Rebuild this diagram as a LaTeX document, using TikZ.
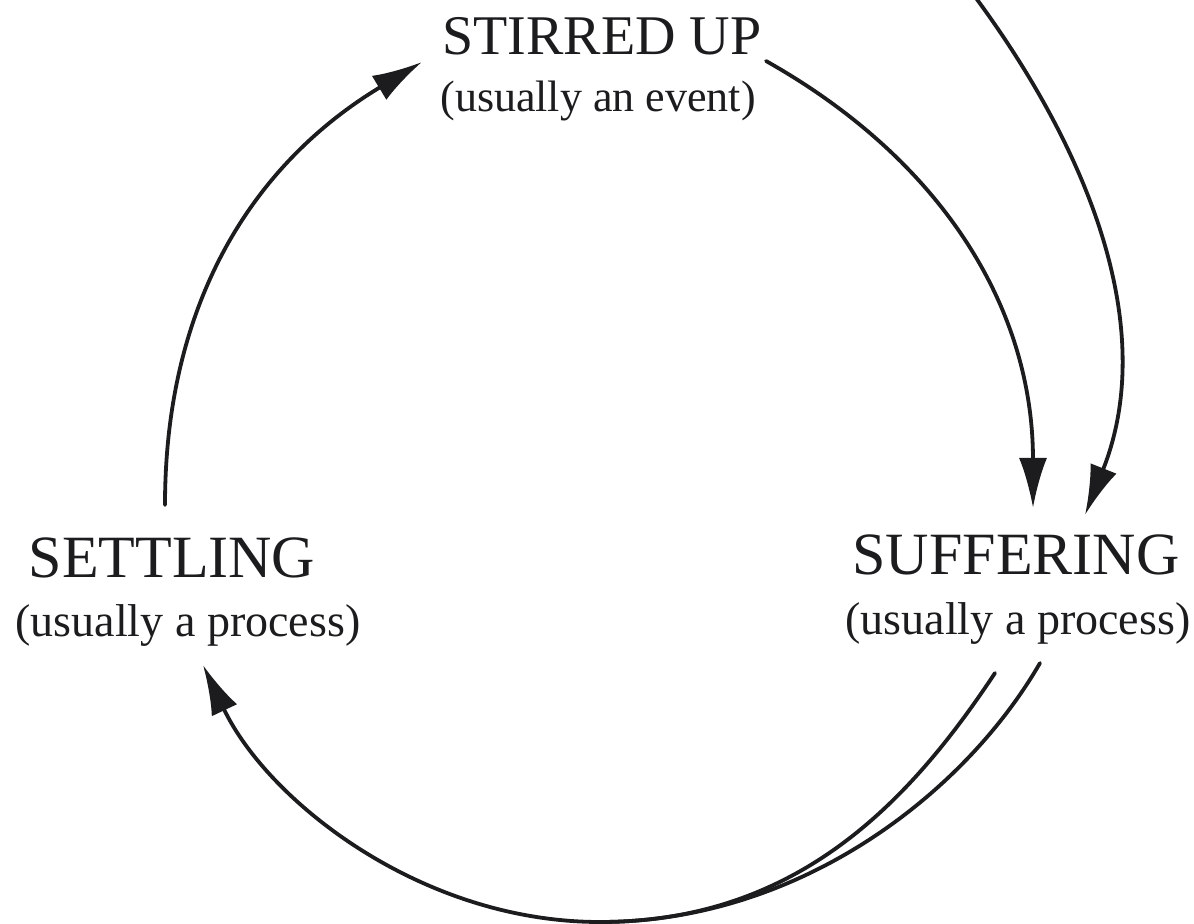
\documentclass[tikz,border=0pt]{standalone}
\usepackage{fontspec}
\setmainfont{Liberation Serif}
\usetikzlibrary{arrows.meta}
\definecolor{ink}{HTML}{1C1C1E}
\begin{document}
\begin{tikzpicture}[x=0.5pt,y=-0.5pt,
  lbl/.style={anchor=base, inner sep=0pt, text=ink},
  ttl/.style={lbl, font=\fontsize{30}{36}\selectfont},
  sub/.style={lbl, font=\fontsize{23}{28}\selectfont},
  conn/.style={draw=ink, line width=1.9pt, line cap=round},
  arr/.style={conn, -{Latex[length=25pt,width=14pt]}}]
\fill[white] (0,0) rectangle (1194,924);
\useasboundingbox (0,0) rectangle (1194,924);

\node[ttl, font=\fontsize{28}{34}\selectfont] (stir) at (602,55) {STIRRED UP};
\node[sub, font=\fontsize{22}{27}\selectfont] (stirsub) at (598,112) {(usually an event)};
\node[ttl] (settle) at (172,578) {SETTLING};
\node[sub] (settlesub) at (188,637) {(usually a process)};
\node[ttl] (suff) at (1016,575) {SUFFERING};
\node[sub] (suffsub) at (1018,635) {(usually a process)};
\coordinate (offtop) at (970,-10);
\coordinate (bot) at (600,922);

\draw[arr] ([shift={(-7,-73)}]settle.base) .. controls (165,305) and (251,165) .. ([shift={(-180,7)}]stir.base);
\draw[arr] ([shift={(164,6)}]stir.base) .. controls (942,160) and (1033,308) .. ([shift={(17,-67)}]suff.base);
\draw[arr] (offtop) .. controls (1090,150) and (1159,329) .. ([shift={(69,-60)}]suff.base);
\draw[conn] ([shift={(-23,38)}]suffsub.base) .. controls (912,798) and (800,922) .. (bot);
\draw[arr] ([shift={(22,28)}]suffsub.base) .. controls (965,793) and (800,922) .. (bot)
  .. controls (420,922) and (267,800) .. ([shift={(15,28)}]settlesub.base);
\end{tikzpicture}
\end{document}
